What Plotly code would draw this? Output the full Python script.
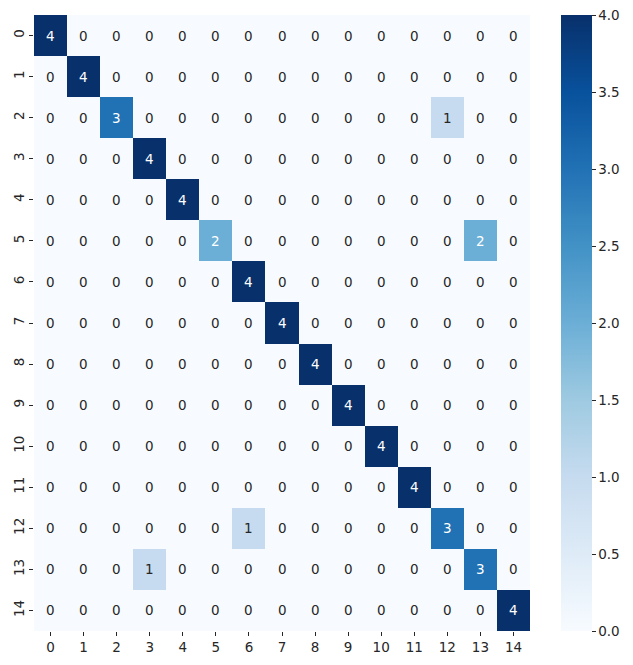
import plotly.graph_objects as go

labels = list(range(15))
matrix = [
    [4,0,0,0,0,0,0,0,0,0,0,0,0,0,0],
    [0,4,0,0,0,0,0,0,0,0,0,0,0,0,0],
    [0,0,3,0,0,0,0,0,0,0,0,0,1,0,0],
    [0,0,0,4,0,0,0,0,0,0,0,0,0,0,0],
    [0,0,0,0,4,0,0,0,0,0,0,0,0,0,0],
    [0,0,0,0,0,2,0,0,0,0,0,0,0,2,0],
    [0,0,0,0,0,0,4,0,0,0,0,0,0,0,0],
    [0,0,0,0,0,0,0,4,0,0,0,0,0,0,0],
    [0,0,0,0,0,0,0,0,4,0,0,0,0,0,0],
    [0,0,0,0,0,0,0,0,0,4,0,0,0,0,0],
    [0,0,0,0,0,0,0,0,0,0,4,0,0,0,0],
    [0,0,0,0,0,0,0,0,0,0,0,4,0,0,0],
    [0,0,0,0,0,0,1,0,0,0,0,0,3,0,0],
    [0,0,0,1,0,0,0,0,0,0,0,0,0,3,0],
    [0,0,0,0,0,0,0,0,0,0,0,0,0,0,4],
]
cbar_ticks = [0.0, 0.5, 1.0, 1.5, 2.0, 2.5, 3.0, 3.5, 4.0]

blues = [
    [0.0, "#f7fbff"], [0.125, "#deebf7"], [0.25, "#c6dbef"], [0.375, "#9ecae1"],
    [0.5, "#6baed6"], [0.625, "#4292c6"], [0.75, "#2171b5"], [0.875, "#08519c"],
    [1.0, "#08306b"],
]

font = dict(family="DejaVu Sans", size=13.5, color="#262626")

fig = go.Figure(go.Heatmap(
    z=matrix, x=labels, y=labels, zmin=0, zmax=4, colorscale=blues,
    xgap=0, ygap=0, hoverinfo="skip",
    colorbar=dict(
        x=1.0625, xanchor="left", xpad=0, y=0.5, yanchor="middle",
        len=1, lenmode="fraction", ypad=0, thickness=31, outlinewidth=0,
        tickvals=cbar_ticks, ticktext=[f"{t:.1f}" for t in cbar_ticks],
        ticks="outside", ticklen=4, tickcolor="#262626", tickfont=font,
        ticklabeloverflow="allow",
    ),
))

vmax = 4
annotations = []
for i, row in enumerate(matrix):
    for j, v in enumerate(row):
        annotations.append(dict(
            x=labels[j], y=labels[i], text=str(v), showarrow=False,
            font=dict(family="DejaVu Sans", size=13.5,
                      color="white" if v / vmax >= 0.5 else "#262626"),
        ))

fig.update_layout(
    width=617, height=649,
    margin=dict(l=26, r=95, t=7, b=26, autoexpand=False),
    paper_bgcolor="white", plot_bgcolor="white",
    annotations=annotations,
    xaxis=dict(range=[-0.5, 14.5], tickvals=labels, ticktext=[str(l) for l in labels],
               ticks="outside", ticklen=4, tickcolor="#262626", tickfont=font,
               showgrid=False, zeroline=False, showline=False, automargin=False),
    yaxis=dict(range=[14.5, -0.5], tickvals=labels, ticktext=[str(l) for l in labels],
               ticks="outside", ticklen=4, tickcolor="#262626", tickfont=font,
               tickangle=-90, showgrid=False, zeroline=False, showline=False,
               automargin=False),
)

fig.write_html("out.html")
